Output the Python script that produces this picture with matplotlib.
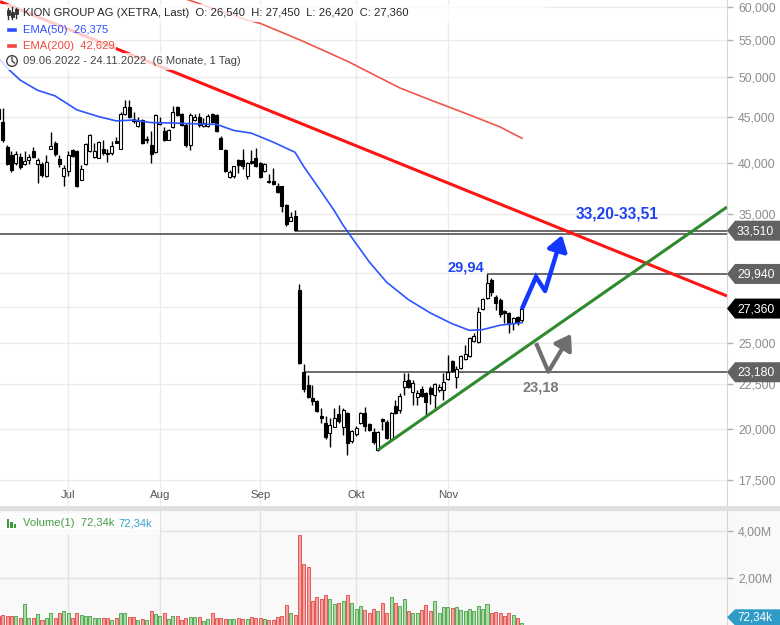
import numpy as np
import pandas as pd
import matplotlib
matplotlib.use("Agg")
import matplotlib.pyplot as plt
from matplotlib.patches import Polygon, Rectangle, Circle
from matplotlib.lines import Line2D
from matplotlib.transforms import Affine2D, blended_transform_factory
from matplotlib.ticker import FixedLocator, FuncFormatter, NullLocator, NullFormatter

plt.rcParams['font.family'] = ['Liberation Sans', 'DejaVu Sans']
NARROW = ['Liberation Sans Narrow', 'Liberation Sans', 'DejaVu Sans']

W, H = 780, 625

# ---------------- data ----------------
dates = pd.bdate_range('2022-06-09', '2022-11-24')   # 121 sessions
xs = np.arange(len(dates))

opens = [46.0, 44.5, 41.7, 40.8, 40.0, 40.6, 39.9, 40.3, 41.2, 39.9,
         39.9, 38.6, 41.5, 42.1, 40.4, 38.6, 39.1, 41.3, 41.2, 38.2,
         39.9, 41.2, 40.6, 40.5, 41.5, 41.0, 41.0, 42.3, 41.5, 45.4,
         46.3, 44.8, 44.0, 44.7, 42.4, 41.9, 41.1, 44.2, 43.4, 42.4,
         43.9, 46.2, 45.4, 44.1, 41.9, 44.7, 45.1, 44.0, 44.0, 45.4,
         45.3, 42.7, 41.3, 38.5, 38.6, 40.3, 40.3, 38.6, 40.2, 40.5,
         40.0, 39.1, 38.1, 38.1, 37.6, 37.6, 35.8, 34.4, 34.8, 28.7,
         23.18, 22.4, 21.7, 21.5, 20.7, 20.3, 19.8, 20.1, 20.8, 20.1,
         20.85, 19.4, 19.74, 20.3, 20.85, 20.25, 19.84, 18.93, 20.47, 20.38,
         19.48, 21.23, 20.99, 22.3, 22.71, 22.03, 21.73, 22.2, 21.96, 22.25,
         21.85, 22.13, 22.15, 22.75, 23.86, 22.89, 23.43, 24.0, 24.18, 25.15,
         25.08, 27.33, 28.13, 29.47, 28.2, 27.98, 27.12, 27.05, 26.35, 26.77,
         26.54]
highs = [47.4, 46.1, 41.9, 41.2, 41.2, 41.0, 41.2, 40.9, 41.7, 40.5,
         40.1, 40.8, 43.3, 42.3, 40.8, 39.8, 41.2, 41.5, 41.3, 39.8,
         42.1, 43.1, 42.1, 42.3, 42.4, 41.5, 42.3, 42.8, 45.6, 47.1,
         47.1, 45.7, 45.0, 44.8, 42.9, 43.4, 45.4, 45.1, 43.9, 43.7,
         46.4, 46.4, 45.5, 44.3, 45.5, 45.4, 45.5, 44.9, 45.4, 45.5,
         45.4, 42.9, 41.4, 39.2, 39.7, 40.4, 41.4, 40.1, 41.3, 41.6,
         40.05, 40.0, 38.8, 39.5, 37.9, 37.65, 35.9, 35.2, 35.4, 29.2,
         23.7, 23.0, 22.4, 21.55, 21.1, 20.7, 20.6, 21.1, 21.3, 21.1,
         20.9, 19.95, 20.15, 20.9, 21.17, 20.3, 20.05, 19.9, 20.58, 20.47,
         20.92, 21.56, 21.96, 23.13, 23.13, 22.71, 22.13, 22.36, 22.0, 22.36,
         22.55, 22.48, 23.13, 24.25, 23.93, 23.55, 24.25, 24.88, 25.41, 25.67,
         27.48, 28.13, 29.94, 29.63, 28.35, 28.13, 27.26, 27.1, 26.77, 26.84,
         27.45]
lows = [44.3, 42.2, 39.8, 39.0, 39.8, 39.4, 39.8, 39.9, 40.5, 37.9,
        38.5, 38.5, 41.4, 40.7, 39.6, 37.6, 38.6, 40.6, 37.5, 38.2,
        39.8, 41.1, 40.5, 40.5, 40.8, 40.1, 40.8, 42.1, 41.5, 45.3,
        44.9, 44.3, 43.9, 42.0, 42.1, 40.0, 41.0, 44.1, 42.3, 42.4,
        43.8, 45.2, 44.0, 41.7, 41.3, 44.6, 43.9, 43.9, 43.9, 44.3,
        43.3, 41.4, 39.0, 38.4, 38.4, 38.9, 39.4, 38.3, 39.9, 39.6,
        38.4, 39.0, 37.9, 37.7, 37.0, 35.2, 33.9, 34.35, 33.51, 23.7,
        22.0, 21.7, 21.3, 20.9, 20.3, 19.5, 19.1, 20.1, 20.3, 19.7,
        18.7, 19.3, 19.64, 20.25, 19.89, 19.9, 19.23, 18.88, 19.94, 19.48,
        19.43, 20.8, 20.85, 21.85, 22.25, 21.29, 21.29, 21.73, 20.69, 21.35,
        21.01, 22.02, 21.56, 22.7, 23.2, 22.25, 23.37, 23.93, 24.12, 25.08,
        25.0, 27.26, 28.06, 28.27, 27.26, 26.77, 26.35, 25.7, 25.87, 26.2,
        26.42]
closes = [44.8, 42.4, 39.9, 39.2, 40.9, 39.6, 40.2, 40.6, 40.6, 40.3,
          38.7, 40.1, 41.8, 40.9, 39.9, 39.5, 40.8, 40.7, 37.6, 39.3,
          42.0, 43.0, 41.2, 42.2, 41.0, 40.9, 41.8, 42.1, 45.4, 46.3,
          45.0, 44.6, 44.6, 42.1, 42.6, 40.9, 45.3, 44.5, 42.4, 43.6,
          45.6, 45.3, 44.1, 41.9, 45.3, 45.0, 44.1, 44.3, 45.2, 44.5,
          43.4, 41.5, 39.1, 39.0, 39.7, 39.8, 39.7, 40.0, 40.0, 39.7,
          38.5, 39.9, 38.0, 37.8, 37.1, 35.7, 34.1, 34.7, 33.6, 23.75,
          22.2, 21.75, 21.5, 20.96, 20.6, 19.6, 20.2, 20.6, 20.4, 21.0,
          19.3, 19.9, 20.05, 20.85, 20.15, 19.94, 19.33, 19.84, 20.42, 19.53,
          20.85, 20.85, 21.79, 22.64, 22.3, 22.55, 21.96, 21.79, 21.45, 21.9,
          22.48, 22.31, 22.6, 23.2, 23.25, 23.37, 24.18, 24.31, 25.34, 25.47,
          27.12, 28.06, 29.24, 28.56, 27.76, 26.97, 27.05, 26.35, 26.7, 26.35,
          27.36]
volume_m = [0.40,
            0.42, 0.38, 0.38, 0.38, 0.28, 0.90, 0.28, 0.28, 0.46, 0.21, 0.28, 0.49,
            0.28, 0.49, 0.58, 0.53, 0.28, 0.49, 0.42, 0.39, 0.38, 0.31, 0.31, 0.31,
            0.31, 0.21, 0.28, 0.53, 0.49, 0.32, 0.32, 0.21, 0.25, 0.21, 0.58, 0.46,
            0.38, 0.51, 0.24, 0.38, 0.38, 0.21, 0.28, 0.32, 0.32, 0.32, 0.18, 0.24,
            0.53, 0.28, 0.28, 0.25, 0.24, 0.25, 0.28, 0.24, 0.25, 0.32, 0.28, 0.28,
            0.24, 0.21, 0.21, 0.32, 0.38, 0.83, 0.49, 0.42, 3.82, 2.61, 2.46, 1.04,
            1.18, 1.11, 1.28, 1.11, 0.90, 0.94, 1.00, 1.28, 0.94, 0.69, 0.79, 0.63,
            0.51, 0.69, 0.60, 0.94, 0.53, 1.17, 0.94, 0.79, 1.11, 0.58, 0.53, 0.53,
            0.65, 0.83, 0.58, 1.03, 0.53, 0.75, 0.75, 0.74, 0.75, 0.63, 0.58, 0.67,
            0.58, 0.79, 0.69, 0.90, 0.53, 0.56, 0.49, 0.38, 0.53, 0.42, 0.28, 0.07234]

ema50_idx = [0, 2, 5, 9, 13, 18, 23, 27, 31, 35, 40, 46, 50, 54, 58, 63, 68, 70,
             74, 77, 79, 82, 85, 89, 94, 99, 104, 108, 111, 115, 118, 120]
ema50_val = [52.6, 51.2, 49.6, 48.3, 47.6, 45.9, 45.1, 44.6, 44.7, 44.4, 44.35,
             44.25, 44.2, 43.5, 43.2, 42.2, 41.1, 39.6, 37.1, 35.3, 34.0, 32.4,
             30.9, 29.3, 28.0, 27.05, 26.3, 25.85, 25.9, 26.2, 26.3, 26.375]
ema200_idx = [42, 50, 57, 60, 69, 80, 92, 99, 108, 115, 120]
ema200_val = [61.5, 59.6, 58.0, 57.5, 55.1, 52.1, 48.6, 47.1, 45.3, 43.9, 42.629]

price_ticks = [17.5, 20.0, 22.5, 25.0, 27.5, 30.0, 35.0, 40.0, 45.0, 50.0, 55.0, 60.0]
vol_ticks = [2e6, 4e6]
month_names = {7: 'Jul', 8: 'Aug', 9: 'Sep', 10: 'Okt', 11: 'Nov'}

# drawn trend lines and levels
resist_line = ([0.38, 167.0], [60.85, 28.27])
support_line = ([87.0, 167.0], [18.93, 35.64])
level_low = 23.18
level_high = 29.94
level_gap = (33.20, 33.51)
last_price = 27.36
last_volume = 72340

blue_path_x = [119.96, 123.23, 125.3]
blue_path_y = [27.31, 29.71, 28.64]
blue_tip = (129.2, 33.13)
grey_path_x = [123.23, 126.06]
grey_path_y = [25.01, 23.21]
grey_tip = (131.25, 25.61)

# ---------------- figure ----------------
fig = plt.figure(figsize=(W / 100, H / 100), dpi=100)
pix = Affine2D().scale(1, -1).translate(0, H)   # top-left pixel coordinates

XMIN, XMAX = 0.38, 167.0
PRICE_LO, PRICE_HI = 16.32, 61.10

ax = fig.add_axes([0, 1 - 507 / H, 727 / W, 507 / H])
axv = fig.add_axes([0, 0, 727 / W, (H - 511) / H])

# volume background strip (incl. scale area)
fig.add_artist(Rectangle((0, 511), W, H - 511, transform=pix, facecolor='#f9f9f9',
                         edgecolor='none', zorder=-1))

month_idx = [i for i in range(1, len(dates)) if dates[i].month != dates[i - 1].month]

# ---- price panel ----
ax.set_yscale('log')
ax.set_xlim(XMIN, XMAX)
ax.set_ylim(PRICE_LO, PRICE_HI)
ax.yaxis.set_major_locator(FixedLocator(price_ticks))
ax.yaxis.set_minor_locator(NullLocator())
ax.yaxis.set_minor_formatter(NullFormatter())
ax.yaxis.set_major_formatter(FuncFormatter(lambda v, _: f"{v:.3f}".replace('.', ',')))
ax.yaxis.tick_right()
ax.tick_params(axis='y', length=4, width=1, color='#b0b0b0', pad=4,
               labelsize=8.8, labelcolor='#8c8c8c')
ax.set_xticks(month_idx)
ax.set_xticklabels([])
ax.tick_params(axis='x', length=0)
ax.grid(True, color='#ebebeb', lw=1)
ax.set_axisbelow(True)
for s in ('top', 'left', 'bottom'):
    ax.spines[s].set_visible(False)
ax.spines['right'].set_color('#d6d6d6')

# month labels
tr = blended_transform_factory(ax.transData, ax.transAxes)
for i in month_idx:
    ax.text(i, (507 - 495) / 507, month_names[dates[i].month], transform=tr,
            ha='center', va='center', fontsize=8.2, color='#555555')

# candles
o = np.array(opens); h = np.array(highs); l = np.array(lows); c = np.array(closes)
up = c >= o
ax.vlines(xs, l, h, color='black', lw=1, zorder=3)
body_lo = np.minimum(o, c)
body_h = np.maximum(np.abs(c - o), body_lo * 0.004)
ax.bar(xs, body_h, bottom=body_lo, width=0.68,
       color=np.where(up, 'white', 'black'), edgecolor='black', linewidth=0.8, zorder=4)

# moving averages
ax.plot(ema200_idx, ema200_val, color='#f2564a', lw=1.2, zorder=5)
ax.plot(ema50_idx, ema50_val, color='#2b55ff', lw=1.2, zorder=5)

# levels
ax.hlines(level_gap[0], XMIN, XMAX, color='#6b6b6b', lw=1.4, zorder=2)
ax.hlines(level_gap[1], 68, XMAX, color='#6b6b6b', lw=1.4, zorder=2)
ax.hlines(level_high, 112, XMAX, color='#6b6b6b', lw=1.4, zorder=2)
ax.hlines(level_low, 70, XMAX, color='#6b6b6b', lw=1.4, zorder=2)

# trend lines
ax.plot(*resist_line, color='#ff1414', lw=2.2, zorder=6, solid_capstyle='butt')
ax.plot(*support_line, color='#2f8a2f', lw=2.2, zorder=6, solid_capstyle='butt')

# scenario arrows
ax.plot(blue_path_x, blue_path_y, color='#1437ff', lw=3.2, zorder=7,
        solid_joinstyle='miter', solid_capstyle='butt')
ax.annotate('', xy=blue_tip, xytext=(blue_path_x[-1], blue_path_y[-1]),
            arrowprops=dict(arrowstyle='-|>,head_length=0.75,head_width=0.5',
                            mutation_scale=12, color='#1437ff', lw=3.2,
                            shrinkA=0, shrinkB=0), zorder=7)
ax.plot(grey_path_x, grey_path_y, color='#6e6e6e', lw=3.0, zorder=7,
        solid_joinstyle='miter', solid_capstyle='butt')
ax.annotate('', xy=grey_tip, xytext=(grey_path_x[-1], grey_path_y[-1]),
            arrowprops=dict(arrowstyle='-|>,head_length=0.75,head_width=0.5',
                            mutation_scale=12, color='#6e6e6e', lw=3.0,
                            shrinkA=0, shrinkB=0), zorder=7)

ax.text(141.8, 35.0, '33,20-33,51', color='#1f43f0', fontsize=11.2, fontweight='bold',
        ha='center', va='center', zorder=8)
ax.text(107.2, 30.41, '29,94', color='#1f43f0', fontsize=10.5, fontweight='bold',
        ha='center', va='center', zorder=8)
ax.text(124.2, 22.30, '23,18', color='#7a7a7a', fontsize=10.5, fontweight='bold',
        ha='center', va='center', zorder=8)

# ---- volume panel ----
axv.set_facecolor('#f9f9f9')
axv.set_xlim(XMIN, XMAX)
axv.set_ylim(0, 4.85e6)
vol = np.array(volume_m) * 1e6
axv.bar(xs, vol, width=0.7, color=np.where(up, '#a9dca3', '#f4a3a0'),
        edgecolor=np.where(up, '#58a858', '#e25a55'), linewidth=0.7, zorder=3)
axv.yaxis.set_major_locator(FixedLocator(vol_ticks))
axv.yaxis.set_major_formatter(FuncFormatter(lambda v, _: f"{v / 1e6:.2f}M".replace('.', ',')))
axv.yaxis.tick_right()
axv.tick_params(axis='y', length=4, width=1, color='#b0b0b0', pad=4,
                labelsize=8.8, labelcolor='#8c8c8c')
for lab in axv.get_yticklabels():
    lab.set_family(NARROW)
axv.set_xticks(month_idx)
axv.set_xticklabels([])
axv.tick_params(axis='x', length=0)
axv.grid(True, color='#e2e2e2', lw=1)
axv.set_axisbelow(True)
for s in ('top', 'left', 'bottom'):
    axv.spines[s].set_visible(False)
axv.spines['right'].set_color('#d6d6d6')

# panel divider
fig.add_artist(Rectangle((0, 506), W, 4.5, transform=pix, facecolor='#e0e0e0',
                         edgecolor='none', zorder=4))

# ---- right-hand value tags ----
def tag(axis, value, label, face, height=10, size=8.8, family=None, dy=0.0):
    yd = axis.transData.transform((1, value))[1]
    yt = H - yd + dy
    pts = [(727, yt), (735, yt - height), (781, yt - height), (781, yt + height),
           (735, yt + height)]
    fig.add_artist(Polygon(pts, closed=True, transform=pix, facecolor=face,
                           edgecolor='none', zorder=5))
    kw = {} if family is None else {'family': family}
    fig.text(737, yt + 0.5, label, transform=pix, color='white', fontsize=size,
             va='center', ha='left', zorder=6, **kw)

tag(ax, level_gap[1], '33,510', '#626262')
tag(ax, level_high, '29,940', '#626262')
tag(ax, last_price, '27,360', '#000000')
tag(ax, level_low, '23,180', '#626262')
tag(axv, last_volume, '72,34k', '#2f9cc8', height=8, size=8.4, family=NARROW, dy=-6)

# ---- legend block ----
def row_box(x1, y0, y1):
    fig.add_artist(Rectangle((0, y0), x1, y1 - y0, transform=pix, facecolor='white',
                             edgecolor='none', alpha=0.78, zorder=2))

row_box(545, 4, 22)
row_box(118, 22, 38)
row_box(116, 38, 53)
row_box(240, 53, 70)
row_box(160, 513, 534)

LEG = 8.1
fig.text(23, 13.5, 'KION GROUP AG (XETRA, Last)  O: 26,540  H: 27,450  L: 26,420  C: 27,360',
         transform=pix, fontsize=LEG, color='#262626', va='center', ha='left', zorder=3)
fig.text(23, 30, 'EMA(50)  26,375', transform=pix, fontsize=LEG, color='#2b4dff',
         va='center', ha='left', zorder=3)
fig.text(23, 46, 'EMA(200)  42,629', transform=pix, fontsize=LEG, color='#f0483c',
         va='center', ha='left', zorder=3)
fig.text(23, 61.5, '09.06.2022 - 24.11.2022  (6 Monate, 1 Tag)', transform=pix,
         fontsize=LEG, color='#444444', va='center', ha='left', zorder=3)

# candlestick icon
for xi, (t, b, bt, bb) in zip([8, 12, 16], [(8, 19, 10, 15), (7, 19, 12, 17), (8, 18, 9, 14)]):
    fig.add_artist(Line2D([xi, xi], [t, b], transform=pix, color='#333333', lw=1, zorder=3))
    fig.add_artist(Rectangle((xi - 1.5, bt), 3, bb - bt, transform=pix,
                             facecolor='#333333', edgecolor='#333333', lw=0.6, zorder=3))
# EMA markers
fig.add_artist(Line2D([9, 15], [30, 30], transform=pix, color='#2b4dff', lw=2.6, zorder=3))
fig.add_artist(Line2D([9, 15], [46, 46], transform=pix, color='#f0483c', lw=2.6, zorder=3))
# clock icon
fig.add_artist(Circle((12, 61), 5.3, transform=pix, facecolor='none',
                      edgecolor='#444444', lw=1, zorder=3))
fig.add_artist(Line2D([12, 12, 14.5], [57.5, 61, 63], transform=pix, color='#444444',
                      lw=1, zorder=3))

# volume legend
for xi, hh in zip([8, 11.5, 15], [9, 6, 4]):
    fig.add_artist(Rectangle((xi - 1.2, 528 - hh), 2.4, hh, transform=pix,
                             facecolor='#3c9a3c', edgecolor='none', zorder=3))
fig.text(23, 523.5, 'Volume(1)  72,34k', transform=pix, fontsize=LEG, color='#4a9e4a',
         va='center', ha='left', zorder=3, family=NARROW)
fig.text(118, 523.5, '72,34k', transform=pix, fontsize=LEG, color='#35a4c8',
         va='center', ha='left', zorder=3, family=NARROW)

fig.savefig('out.png', dpi=100)
